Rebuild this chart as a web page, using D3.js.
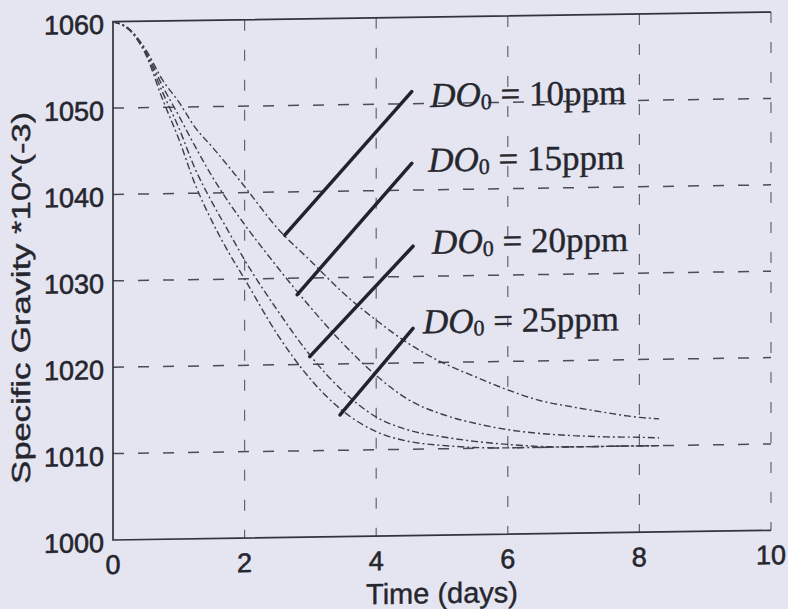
<!DOCTYPE html>
<html lang="en">
<head>
    <meta charset="UTF-8">
    <title>Specific Gravity vs Time</title>
    <script src="https://d3js.org/d3.v7.min.js"></script>
    <style>
        body {
            margin: 0;
            background: #e5e5f1;
        }

        svg {
            display: block;
        }
    </style>
</head>
<body>
    <div id="chart"></div>

    <script>
        // time axis (days) and specific gravity *10^(-3)
        const days = [0, 0.25, 0.5, 0.75, 1, 1.25, 1.5, 1.75, 2, 2.5, 3, 3.5, 4, 4.5, 5, 5.5, 6, 6.5, 7, 7.5, 8, 8.3];
        const sg10 = [1060, 1059.1, 1056.7, 1053.2, 1050.6, 1047.6, 1045.4, 1043.1, 1040.7, 1035.8, 1032.0, 1028.2, 1025.0, 1022.2, 1020.0, 1018.3, 1016.7, 1015.4, 1014.6, 1013.9, 1013.3, 1013.1];
        const sg15 = [1060, 1059.1, 1056.5, 1052.5, 1049.0, 1045.4, 1042.0, 1039.0, 1036.3, 1031.3, 1026.6, 1022.3, 1018.6, 1015.7, 1014.0, 1012.9, 1012.1, 1011.6, 1011.3, 1011.1, 1011.0, 1010.9];
        const sg20 = [1060, 1059.0, 1056.3, 1051.8, 1047.6, 1042.8, 1039.0, 1035.6, 1032.2, 1026.3, 1021.0, 1016.8, 1013.8, 1012.2, 1011.4, 1010.8, 1010.4, 1010.1, 1010.0, 1010.0, 1010.0, 1010.0];
        const sg25 = [1060, 1059.0, 1056.1, 1051.0, 1046.3, 1041.0, 1036.8, 1033.2, 1030.0, 1023.5, 1018.3, 1014.5, 1012.1, 1010.9, 1010.4, 1010.1, 1010.0, 1010.0, 1010.0, 1010.0, 1010.0, 1010.0];

        const seriesNames = ["10ppm", "15ppm", "20ppm", "25ppm"];
        // pointer lines: [x1, y1, x2, y2] in data units (curve end -> label end)
        const pointers = [
            [2.61, 1035.0, 4.54, 1051.4],
            [2.80, 1028.1, 4.54, 1043.1],
            [2.99, 1020.9, 4.56, 1033.5],
            [3.45, 1014.1, 4.56, 1024.0]
        ];
        // label anchor (start x, baseline y) in data units
        const labelPos = [
            [4.82, 1049.6],
            [4.79, 1042.1],
            [4.85, 1032.6],
            [4.71, 1023.4]
        ];

        const xTicks = [0, 2, 4, 6, 8, 10];
        const yTicks = [1000, 1010, 1020, 1030, 1040, 1050, 1060];

        const width = 788;
        const height = 609;

        const x = d3.scaleLinear().domain([0, 10]).range([113, 771]);
        const y = d3.scaleLinear().domain([1000, 1060]).range([540, 21.7]);

        const svg = d3.select("#chart").append("svg")
            .attr("width", width)
            .attr("height", height);

        svg.append("rect")
            .attr("width", width)
            .attr("height", height)
            .attr("fill", "#e5e5f1");

        // the scan is slightly sheared, so the whole figure leans a little
        const g = svg.append("g")
            .attr("transform", `translate(${x(0)},0) skewY(-0.84) translate(${-x(0)},0)`);

        const ink = "#33333d";
        const textInk = "#26262e";

        // horizontal grid
        g.append("g")
            .selectAll("line")
            .data(yTicks.slice(1, -1))
            .join("line")
            .attr("x1", x(0)).attr("x2", x(10))
            .attr("y1", d => y(d)).attr("y2", d => y(d))
            .attr("stroke", "#4c4c56")
            .attr("stroke-width", 1.5)
            .attr("stroke-dasharray", "11,14");

        // vertical grid (and dashed right edge)
        g.append("g")
            .selectAll("line")
            .data(xTicks.slice(1))
            .join("line")
            .attr("x1", d => x(d)).attr("x2", d => x(d))
            .attr("y1", y(1060)).attr("y2", y(1000))
            .attr("stroke", "#64646e")
            .attr("stroke-width", 1.2)
            .attr("stroke-dasharray", "11,19");

        // solid frame: top, left, bottom
        g.append("path")
            .attr("d", `M${x(10)},${y(1060)}H${x(0)}V${y(1000)}H${x(10)}`)
            .attr("fill", "none")
            .attr("stroke", ink)
            .attr("stroke-width", 1.7);

        // curves
        const line = d3.line()
            .x(d => x(d[0]))
            .y(d => y(d[1]))
            .curve(d3.curveMonotoneX);

        const allSeries = [sg10, sg15, sg20, sg25];
        g.append("g")
            .selectAll("path")
            .data(allSeries)
            .join("path")
            .attr("d", s => line(days.map((t, i) => [t, s[i]])))
            .attr("fill", "none")
            .attr("stroke", "#3e3e48")
            .attr("stroke-width", 1.4)
            .attr("stroke-dasharray", "7,3,2,3");

        // pointer lines
        g.append("g")
            .selectAll("line")
            .data(pointers)
            .join("line")
            .attr("x1", d => x(d[0])).attr("y1", d => y(d[1]))
            .attr("x2", d => x(d[2])).attr("y2", d => y(d[3]))
            .attr("stroke", "#22222a")
            .attr("stroke-width", 3.5)
            .attr("stroke-linecap", "round");

        // labels DO_0 = ...
        const lab = g.append("g")
            .selectAll("text")
            .data(seriesNames)
            .join("text")
            .attr("x", (d, i) => x(labelPos[i][0]))
            .attr("y", (d, i) => y(labelPos[i][1]))
            .attr("font-family", "'Liberation Serif', 'Times New Roman', serif")
            .attr("font-size", 35)
            .attr("fill", textInk)
            .attr("stroke", textInk)
            .attr("stroke-width", 0.4);
        lab.append("tspan").attr("font-style", "italic").text("DO");
        lab.append("tspan").attr("font-size", 22).attr("dy", 3).text("0");
        lab.append("tspan").attr("dy", -3).text(d => " = " + d);

        // tick labels
        const sans = "'Liberation Sans', Arial, sans-serif";
        g.append("g")
            .selectAll("text")
            .data(yTicks)
            .join("text")
            .attr("x", 104)
            .attr("y", d => y(d) + 12)
            .attr("text-anchor", "end")
            .attr("font-family", sans)
            .attr("font-size", 27)
            .attr("fill", textInk)
            .attr("stroke", textInk)
            .attr("stroke-width", 0.6)
            .text(d => d);

        g.append("g")
            .selectAll("text")
            .data(xTicks)
            .join("text")
            .attr("x", d => x(d))
            .attr("y", y(1000) + 34)
            .attr("text-anchor", "middle")
            .attr("font-family", sans)
            .attr("font-size", 27)
            .attr("fill", textInk)
            .attr("stroke", textInk)
            .attr("stroke-width", 0.6)
            .text(d => d);

        // axis titles
        g.append("text")
            .attr("x", (x(0) + x(10)) / 2)
            .attr("y", 608)
            .attr("text-anchor", "middle")
            .attr("font-family", sans)
            .attr("font-size", 29)
            .attr("fill", textInk)
            .attr("stroke", textInk)
            .attr("stroke-width", 0.4)
            .text("Time (days)");

        g.append("text")
            .attr("transform", `translate(30,${(110 + 483) / 2}) rotate(-90)`)
            .attr("text-anchor", "middle")
            .attr("font-family", sans)
            .attr("font-size", 26)
            .attr("textLength", 372)
            .attr("lengthAdjust", "spacingAndGlyphs")
            .attr("fill", textInk)
            .attr("stroke", textInk)
            .attr("stroke-width", 0.4)
            .text("Specific Gravity *10^(-3)");
    </script>
</body>
</html>
